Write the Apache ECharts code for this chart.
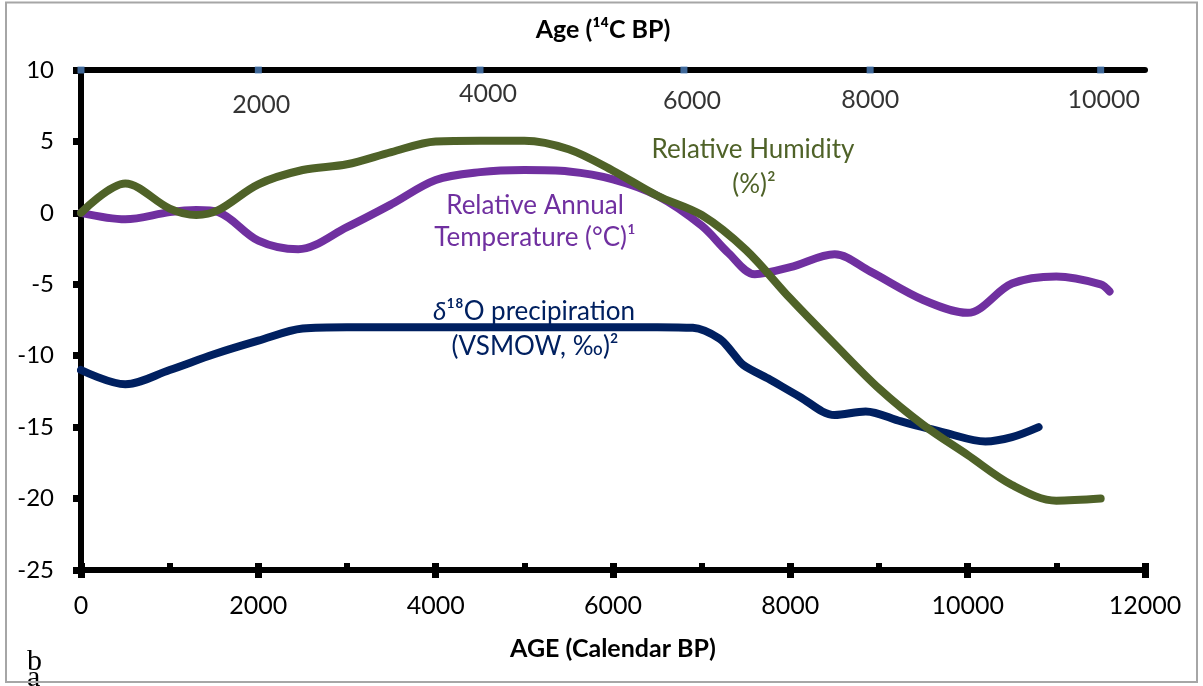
<!DOCTYPE html>
<html>
<head>
<meta charset="utf-8">
<script src="https://cdn.jsdelivr.net/npm/echarts@6/dist/echarts.min.js"></script>
<style>
  html, body { margin: 0; padding: 0; background: #fff; }
  #chart { width: 1203px; height: 686px; }
</style>
</head>
<body>
<div id="chart"></div>
<script>
// Relative humidity (%) against calendar age (years BP)
const humidityAges = [0, 500, 1000, 1300, 1550, 2000, 2500, 3000, 3500, 4000, 4500, 5000, 5500, 6000, 6500, 7000, 7500, 8000, 8500, 9000, 9500, 10000, 10500, 11000, 11500];
const humidity     = [0, 2.05, 0.3, -0.15, 0.2, 2.0, 3.0, 3.4, 4.25, 5.0, 5.05, 5.05, 4.45, 2.95, 1.2, -0.15, -2.6, -6.0, -9.2, -12.3, -14.85, -16.95, -19.05, -20.15, -20.0];

// Relative annual temperature (°C)
const temperatureAges = [0, 500, 1000, 1300, 1550, 2000, 2450, 3000, 3500, 4000, 4500, 5000, 5500, 6000, 6500, 7000, 7300, 7600, 8000, 8500, 8900, 9500, 10000, 10500, 11000, 11500, 11600];
const temperature     = [0, -0.45, 0.05, 0.2, 0.05, -1.95, -2.55, -1.0, 0.6, 2.3, 2.85, 3.0, 2.9, 2.35, 1.2, -0.9, -2.8, -4.3, -3.8, -2.9, -4.1, -6.1, -7.0, -4.95, -4.45, -5.0, -5.5];

// δ18O of precipitation (VSMOW, ‰)
const precipAges = [0, 500, 1000, 1500, 2000, 2500, 3000, 4000, 5000, 6000, 6500, 6900, 7200, 7350, 7470, 7750, 8100, 8500, 8850, 9250, 9750, 10200, 10500, 10800];
const precipitation = [-11.0, -12.0, -11.0, -9.9, -8.95, -8.1, -8.0, -8.0, -8.0, -8.0, -8.0, -8.05, -8.8, -9.8, -10.65, -11.6, -12.85, -14.15, -13.9, -14.6, -15.4, -16.0, -15.7, -15.0];

// Radiocarbon age markers placed on the calendar scale
const radiocarbonCalAges = [0, 2000, 4500, 6800, 8900, 11500];
const radiocarbonLabels  = ['', '2000', '4000', '6000', '8000', '10000'];

// Axis tick values
const yMin = -25, yMax = 10, yStep = 5;
const xMin = 0, xMax = 12000, xStep = 2000;

// label placement under each radiocarbon marker (pixels)
const radiocarbonLabelOffsets = [[0, 0], [3, 35], [8, 24], [8, 31], [0, 30], [3, 30]];

const FONT = 'Lato, "Open Sans", "Noto Sans", sans-serif';
const COLORS = { humidity: '#4f6228', temperature: '#7030a0', precip: '#002060', marker: '#4f81bd' };

const pairs = (xs, ys) => xs.map((x, i) => [x, ys[i]]);

function curve(name, xs, ys, color, z) {
  return {
    name, type: 'line', xAxisIndex: 0, yAxisIndex: 0,
    data: pairs(xs, ys),
    smooth: 0.33, showSymbol: false, symbol: 'none', z,
    lineStyle: { color, width: 8, cap: 'round', join: 'round' },
    emphasis: { disabled: true }
  };
}

function note(text, x, y, color, rich) {
  return {
    type: 'text', x, y, z: 20,
    style: {
      text, fill: color, font: '26px ' + FONT,
      align: 'center', verticalAlign: 'middle', rich
    }
  };
}

const chart = echarts.init(document.getElementById('chart'), null, { renderer: 'canvas' });

chart.setOption({
  animation: false,
  backgroundColor: '#fff',
  grid: { left: 81, right: 58, top: 70, bottom: 116 },
  xAxis: [
    {
      type: 'value', position: 'bottom', min: xMin, max: xMax, interval: xStep,
      axisLine: { show: true, onZero: false, lineStyle: { color: '#000', width: 6 } },
      axisTick: { show: true, inside: true, length: 7, lineStyle: { color: '#000', width: 7 } },
      minorTick: { show: true, splitNumber: 2, length: 7, lineStyle: { color: '#000', width: 6 } },
      axisLabel: { color: '#000', fontSize: 25, fontFamily: FONT, margin: 23, formatter: v => String(v) },
      splitLine: { show: false }
    },
    {
      type: 'value', position: 'top', min: xMin, max: xMax,
      axisLine: { show: true, onZero: false, lineStyle: { color: '#000', width: 6 } },
      axisTick: { show: false }, axisLabel: { show: false }, splitLine: { show: false }
    },
    {
      type: 'value', position: 'bottom', min: xMin, max: xMax, interval: xStep,
      axisLine: { show: false, onZero: false },
      axisTick: { show: true, inside: false, length: 8, lineStyle: { color: '#000', width: 7 } },
      axisLabel: { show: false }, splitLine: { show: false }
    }
  ],
  yAxis: {
    type: 'value', min: yMin, max: yMax, interval: yStep,
    axisLine: { show: true, onZero: false, lineStyle: { color: '#000', width: 6 } },
    axisTick: { show: true, inside: false, length: 8, lineStyle: { color: '#000', width: 7 } },
    axisLabel: { color: '#000', fontSize: 24, fontFamily: FONT, margin: 27 },
    splitLine: { show: false }
  },
  series: [
    curve('δ18O precipitation', precipAges, precipitation, COLORS.precip, 3),
    curve('Relative Annual Temperature', temperatureAges, temperature, COLORS.temperature, 4),
    curve('Relative Humidity', humidityAges, humidity, COLORS.humidity, 5),
    {
      name: 'Age (14C BP)', type: 'scatter', xAxisIndex: 1, yAxisIndex: 0,
      clip: false, z: 10,
      symbol: 'rect', symbolSize: 7,
      itemStyle: { color: COLORS.marker },
      data: radiocarbonCalAges.map((x, i) => ({
        value: [x, yMax, radiocarbonLabels[i]],
        label: { offset: radiocarbonLabelOffsets[i] }
      })),
      label: {
        show: true, position: 'inside', color: '#000', fontSize: 25, fontFamily: FONT,
        formatter: p => p.value[2]
      },
      emphasis: { disabled: true }
    }
  ],
  graphic: [
    {
      type: 'text', x: 603, y: 30, z: 20,
      style: { text: 'Age (¹⁴C BP)', fill: '#000', font: 'bold 25px ' + FONT, align: 'center', verticalAlign: 'middle' }
    },
    {
      type: 'text', x: 613, y: 649, z: 20,
      style: { text: 'AGE (Calendar BP)', fill: '#000', font: 'bold 25px ' + FONT, align: 'center', verticalAlign: 'middle' }
    },
    note('Relative Humidity', 753, 150, COLORS.humidity),
    note('(%)²', 754, 185, COLORS.humidity),
    note('Relative Annual', 535, 206, COLORS.temperature),
    note('Temperature (°C)¹', 535, 238, COLORS.temperature),
    note('{i|δ}¹⁸O precipiration', 534, 312, COLORS.precip, { i: { fontStyle: 'italic', fontSize: 26, fontFamily: FONT, fill: COLORS.precip } }),
    note('(VSMOW, ‰)²', 535, 347, COLORS.precip),
    {
      type: 'text', x: 27, y: 662, z: 20,
      style: { text: 'b', fill: '#000', font: '30px "Liberation Serif", "DejaVu Serif", serif', align: 'left', verticalAlign: 'middle' }
    },
    {
      type: 'text', x: 27, y: 678, z: 20,
      style: { text: 'a', fill: '#000', font: '30px "Liberation Serif", "DejaVu Serif", serif', align: 'left', verticalAlign: 'middle' }
    },
    {
      type: 'rect', z: 30, silent: true,
      shape: { x: 6, y: 2.5, width: 1191, height: 679.5 },
      style: { fill: 'none', stroke: '#a6a6a6', lineWidth: 2 }
    }
  ]
});
</script>
</body>
</html>
